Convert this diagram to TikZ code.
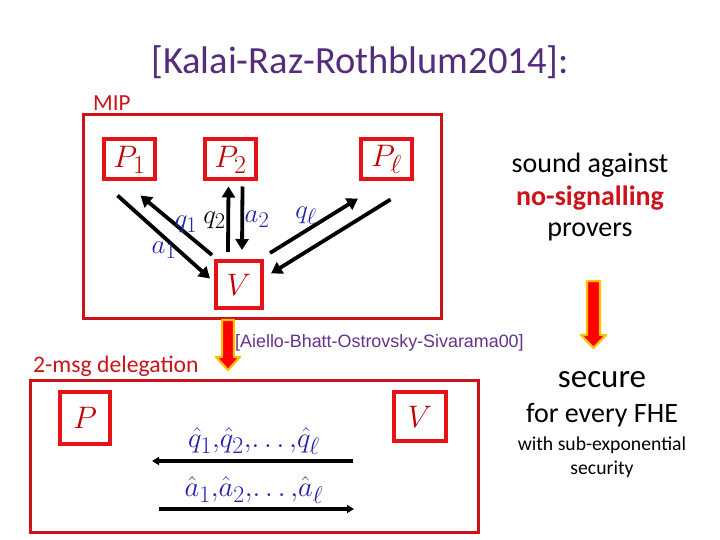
\documentclass[tikz,border=0pt]{standalone}
\usepackage{graphicx}
\usepackage{fontspec}
\setmainfont{Carlito}
\newfontfamily\arialf{Liberation Sans}
\usetikzlibrary{calc,arrows.meta}
\newcommand\smath[2]{\scalebox{#1}{$#2$}}
\definecolor{outred}{RGB}{204,18,26}
\definecolor{inred}{RGB}{230,18,24}
\definecolor{titlepurple}{RGB}{84,44,124}
\definecolor{citepurple}{RGB}{100,50,140}
\definecolor{mblue}{RGB}{32,32,170}
\definecolor{pred}{RGB}{192,0,0}
\definecolor{ygold}{RGB}{255,192,0}
\begin{document}
\begin{tikzpicture}[x=1pt,y=-1pt,
  obox/.style={draw=outred,line width=3pt},
  ibox/.style={draw=inred,line width=4pt,minimum width=51pt,minimum height=40pt,inner sep=0pt,
    font=\fontsize{24.88}{30}\selectfont,text=pred},
  arr/.style={line width=3.8pt,-{Triangle[length=11pt,width=13pt]}},
  lbl/.style={font=\fontsize{24.88}{28}\selectfont,text=mblue,inner sep=1pt},
  fat/.style={fill=red,draw=ygold,line width=2.2pt,line join=round},
  rtext/.style={font=\fontsize{28}{32}\selectfont,inner sep=0pt}]
\useasboundingbox (0,0) rectangle (720,540);
% title
\node[font=\fontsize{38.5}{44}\selectfont,text=titlepurple] (title) at (360,62) {[Kalai-Raz-Rothblum2014]:};
% MIP
\node[font=\fontsize{23}{26}\selectfont,text=outred,anchor=west,inner sep=0pt] (miplbl) at (93,103) {MIP};
\draw[obox] (83,115) rectangle (441,318);
\node[ibox] (P1) at (129.5,159.5) {\smath{1.25}{P_1}};
\node[ibox] (P2) at (230.5,159.5) {\smath{1.25}{P_2}};
\node[ibox] (Pl) at (386.5,159.5) {\smath{1.25}{P_\ell}};
\node[ibox,minimum width=46pt,minimum height=47pt] (V) at (239,284.5) {\smath{1.25}{V}};
% arrows
\draw[arr] ($(P1.south)+(-12,14)$) -- ($(V.west)+(-4,-6)$);
\draw[arr] ($(V.north west)+(-2,-4)$) -- ($(P1.south)+(11,14)$);
\draw[arr] ($(V.north)+(-11,-7)$) -- ($(P2.south)+(-2,5)$);
\draw[arr] ($(P2.south)+(12,5)$) -- ($(V.north)+(3,-9)$);
\draw[arr] ($(V.north east)+(6,-6)$) -- ($(Pl.south west)+(-1,17)$);
\draw[arr] ($(Pl.south)+(4,18)$) -- ($(V.east)+(7,-11)$);
% labels
\node[lbl] (q1) at (186,224) {\smath{1.08}{q_1}};
\node[lbl,text=black] (q2) at (214.5,220) {\smath{1.08}{q_2}};
\node[lbl] (a2) at (257,219) {\smath{1.08}{a_2}};
\node[lbl] (ql) at (306,216) {\smath{1.08}{q_\ell}};
\node[lbl] (a1) at (164,250) {\smath{1.08}{a_1}};
% right text
\node[rtext] (t1) at (590,165) {sound against};
\node[rtext,text=outred,font=\fontsize{28}{32}\selectfont\bfseries] (t2) at (590,198) {no-signalling};
\node[rtext] (t3) at (590,232) {provers};
% fat arrows
\draw[fat] (587,281) -- (600,281) -- (600,335) -- (606,335) -- (593.5,348) -- (581,335) -- (587,335) -- cycle;
\draw[fat] (222,320) -- (234,320) -- (234,357) -- (240,357) -- (228,370) -- (216,357) -- (222,357) -- cycle;
% citation
\node[font=\arialf\fontsize{17.9}{21}\selectfont,text=citepurple,anchor=west,inner sep=0pt] (cite) at (235,343) {[Aiello-Bhatt-Ostrovsky-Sivarama00]};
% delegation
\node[font=\fontsize{23.7}{27}\selectfont,text=outred,anchor=west,inner sep=0pt] (dlbl) at (33,366) {2-msg delegation};
\draw[obox] (30,380) rectangle (478,532);
\node[ibox,minimum width=50pt,minimum height=52pt] (P) at (85,418) {\smath{1.25}{P}};
\node[ibox,minimum width=52pt,minimum height=49pt] (V2) at (420,416.5) {\smath{1.25}{V}};
\coordinate (qs) at (353,461);
\coordinate (qe) at (152,461);
\coordinate (as) at (159,509);
\coordinate (ae) at (354,509);
\draw[line width=3.8pt,-{Triangle[length=7pt,width=8pt]}] (qs) -- (qe);
\draw[line width=3.8pt,-{Triangle[length=7pt,width=8pt]}] (as) -- (ae);
\node[lbl] (qh) at (254,441) {\smath{1.15}{\hat q_1,\!\hat q_2,\!\ldots,\!\hat q_\ell}};
\node[lbl] (ah) at (254,490) {\smath{1.15}{\hat a_1,\!\hat a_2,\!\ldots,\!\hat a_\ell}};
% secure text
\node[font=\fontsize{33}{36}\selectfont,inner sep=0pt] (s1) at (602,380) {secure};
\node[rtext] (s2) at (602,415) {for every FHE};
\node[font=\fontsize{19.7}{23}\selectfont,inner sep=0pt] (s3) at (602,445) {with sub-exponential};
\node[font=\fontsize{19.7}{23}\selectfont,inner sep=0pt] (s4) at (602,469) {security};
\end{tikzpicture}
\end{document}
